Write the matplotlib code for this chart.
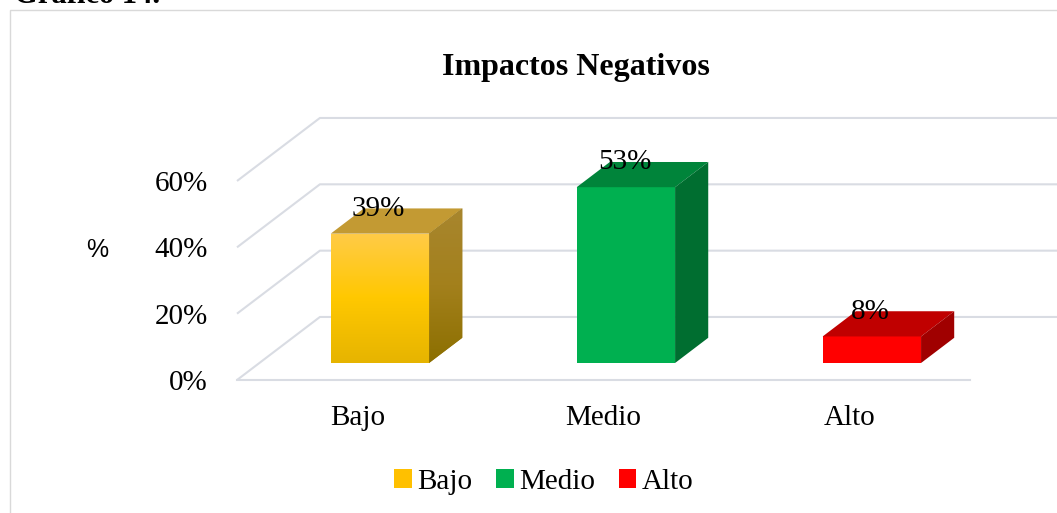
import numpy as np
import matplotlib
matplotlib.use('Agg')
import matplotlib.pyplot as plt
from matplotlib.patches import Polygon, Rectangle, Patch
from matplotlib.colors import LinearSegmentedColormap

# data
categorias = ['Bajo', 'Medio', 'Alto']
valores = [39, 53, 8]
etiquetas = ['39%', '53%', '8%']
yticks = [0, 20, 40, 60]

# colours (front, top, side)
frente = ['#FFC000', '#00B050', '#FF0000']
tapa = ['#C39A33', '#00843A', '#C00000']
lado = ['#9C7C1A', '#006E30', '#A00000']

serif = 'Liberation Serif'
plt.rcParams['font.family'] = serif
fs = 21

fig = plt.figure(figsize=(10.57, 5.13), dpi=100)
ax = fig.add_axes([237 / 1057, 133 / 513, 733 / 1057, 199 / 513])
ax.set_xlim(-0.49, 2.49)
ax.set_ylim(0, 60)

# 3d offsets (back wall relative to front plane), in data units
DX, DY = 0.337, 19.0
F0, F1 = 0.27, 0.67   # bar depth (front / back fraction)
W = 0.40
grid_col = '#D9DCE3'

x0 = ax.get_xlim()[0]
for y in yticks:
    ax.plot([x0, x0 + DX, 3.2], [y, y + DY, y + DY], color=grid_col,
            lw=1.5, clip_on=False, zorder=1, solid_capstyle='butt')
ax.plot([x0, ax.get_xlim()[1]], [0, 0], color=grid_col, lw=1.5,
        clip_on=False, zorder=1)

ddx, ddy = (F1 - F0) * DX, (F1 - F0) * DY
for i, v in enumerate(valores):
    xc = i + F0 * DX
    xl, xr = xc - W / 2, xc + W / 2
    yb = F0 * DY
    yt = yb + v
    bars = ax.bar(xc, v, width=W, bottom=yb, color=frente[i], zorder=3,
                  clip_on=False, linewidth=0)
    if i == 0:
        # gradient on the yellow bar
        cmap = LinearSegmentedColormap.from_list('g', ['#E6B400', '#FFC800', '#FFCB48'])
        grad = np.linspace(0, 1, 256).reshape(-1, 1)
        im = ax.imshow(grad, cmap=cmap, origin='lower', aspect='auto',
                       extent=[xl, xr, yb, yt], zorder=3.1)
        im.set_clip_path(bars[0])
    ax.add_patch(Polygon([(xl, yt), (xr, yt), (xr + ddx, yt + ddy), (xl + ddx, yt + ddy)],
                         closed=True, facecolor=tapa[i], edgecolor='none',
                         zorder=3, clip_on=False))
    side = Polygon([(xr, yb), (xr, yt), (xr + ddx, yt + ddy), (xr + ddx, yb + ddy)],
                   closed=True, facecolor=lado[i], edgecolor='none',
                   zorder=3, clip_on=False)
    ax.add_patch(side)
    if i == 0:
        cmap2 = LinearSegmentedColormap.from_list('s', ['#8C6F00', '#A3801C', '#A8862E'])
        im2 = ax.imshow(grad, cmap=cmap2, origin='lower', aspect='auto',
                        extent=[xr, xr + ddx, yb, yt + ddy], zorder=3.1)
        im2.set_clip_path(side)
    ax.text(xc - 0.005, yt + 5.4, etiquetas[i], ha='center', va='baseline',
            fontsize=fs, color='black', zorder=5)

ax.set_xlim(-0.49, 2.49)
ax.set_ylim(0, 60)
ax.set_yticks(yticks)
ax.set_yticklabels([f'{t}%' for t in yticks], fontsize=fs)
ax.set_xticks(range(len(categorias)))
ax.set_xticklabels(categorias, fontsize=fs)
ax.tick_params(length=0)
ax.tick_params(axis='y', pad=21)
ax.tick_params(axis='x', pad=18)
for s in ax.spines.values():
    s.set_visible(False)
ax.patch.set_visible(False)

fig.text(576 / 1057, 1 - 75 / 513, 'Impactos Negativos', ha='center', va='baseline',
         fontsize=23, fontweight='bold')
fig.text(97 / 1057, 1 - 250 / 513, '%', ha='center', va='center',
         fontsize=18, family='Liberation Sans')
fig.text(14 / 1057, 1 - 3 / 513, 'Gráfico 14.', ha='left', va='baseline',
         fontsize=22, fontweight='bold')

fig.patches.append(Rectangle((10 / 1057, -0.1), 2, 1.1 - 10 / 513,
                             transform=fig.transFigure, fill=False,
                             edgecolor='#D9D9D9', lw=1))

handles = [Patch(facecolor=c, edgecolor='none') for c in frente]
fig.legend(handles, categorias, loc='center', bbox_to_anchor=(544 / 1057, 1 - 482 / 513),
           ncol=3, frameon=False, fontsize=fs, handlelength=0.6, handleheight=0.6,
           handletextpad=0.2, columnspacing=0.8)

fig.savefig('out.png', dpi=100)
